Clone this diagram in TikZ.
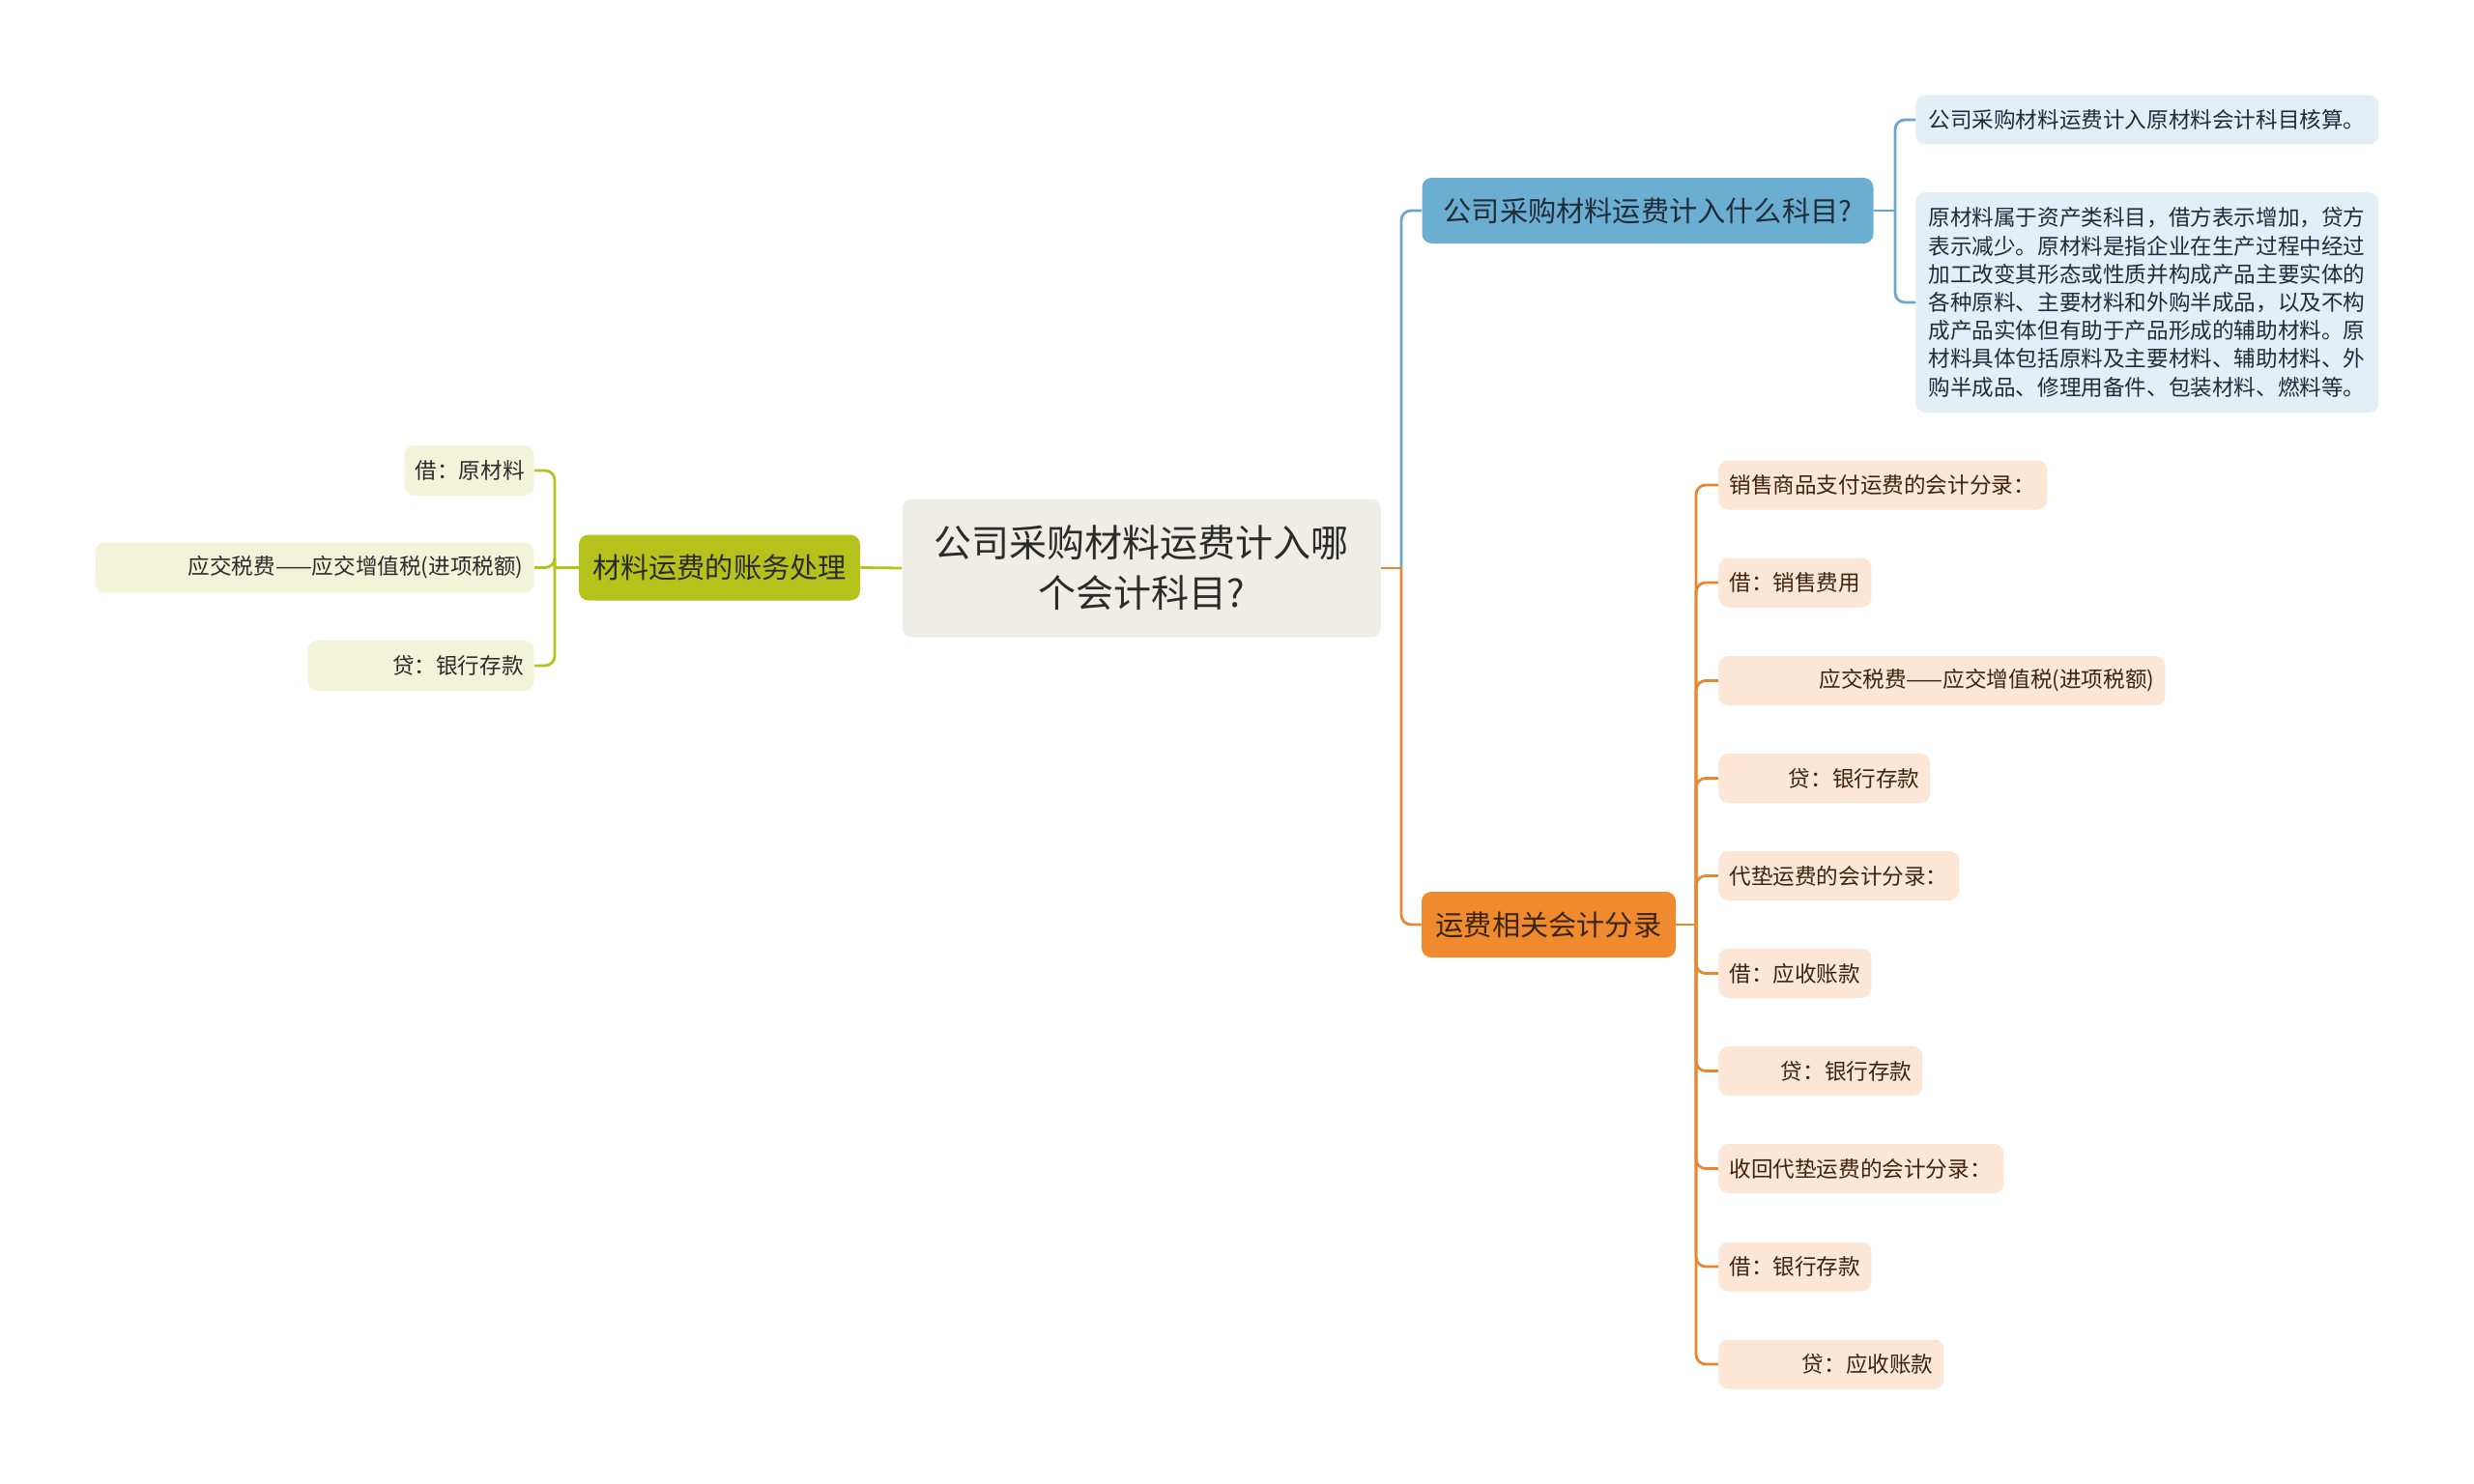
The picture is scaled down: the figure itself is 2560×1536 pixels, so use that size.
\documentclass[tikz,border=0pt]{standalone}
\usepackage{fontspec}
\setmainfont{Noto Sans CJK SC}
\definecolor{rootfill}{HTML}{EEEEE6}
\definecolor{olive}{HTML}{B5C21C}
\definecolor{leafL}{HTML}{F2F3D8}
\definecolor{bluefill}{HTML}{6BAED2}
\definecolor{blueline}{HTML}{6AA6C9}
\definecolor{leafB}{HTML}{E3EFF7}
\definecolor{orangefill}{HTML}{F08A2E}
\definecolor{orangeline}{HTML}{E8872F}
\definecolor{leafO}{HTML}{FCE6D5}
\definecolor{darktext}{HTML}{2B2B2B}
\definecolor{browntext}{HTML}{3B2412}
\definecolor{bluetext}{HTML}{1F2D38}
\begin{document}
\begin{tikzpicture}[x=0.5pt,y=-0.5pt,
  box/.style={rounded corners=5pt, inner sep=0pt, align=center},
  rootbox/.style={box, fill=rootfill, text=darktext, font=\fontsize{19.5}{26}\selectfont,
     minimum width=247.5pt, minimum height=71.5pt},
  branchbox/.style={box, font=\fontsize{14.6}{18}\selectfont, minimum height=34pt},
  leafbox/.style={rounded corners=5pt, inner ysep=0pt, inner xsep=5.5pt,
     font=\fontsize{11.3}{14.6}\selectfont, minimum height=25.5pt},
  lleaf/.style={leafbox, fill=leafL, text=darktext, align=right, anchor=east, minimum height=26pt},
  bleaf/.style={leafbox, fill=leafB, text=bluetext, align=left, anchor=west, inner xsep=6.5pt, text width=226.5pt},
  oleafL/.style={leafbox, fill=leafO, text=browntext, align=left, anchor=west, text width=#1},
  oleafR/.style={leafbox, fill=leafO, text=browntext, align=right, anchor=west, text width=#1},
  oline/.style={draw=olive, line width=1.4pt, rounded corners=5pt},
  bline/.style={draw=blueline, line width=1.4pt, rounded corners=5pt},
  rline/.style={draw=orangeline, line width=1.4pt, rounded corners=5pt}
]
\fill[white] (0,0) rectangle (2560,1536);
\useasboundingbox (0,0) rectangle (2560,1536);

% root
\node[rootbox] (root) at (1181,588) {公司采购材料运费计入哪\\个会计科目?};

% left branch
\node[branchbox, fill=olive, text=darktext, minimum width=145.5pt] (lb) at (744.5,587.5) {材料运费的账务处理};
\node[lleaf, text width=56pt] (l1) at (553,487) {借：原材料};
\node[lleaf, text width=216pt] (l2) at (553,587.5) {应交税费——应交增值税(进项税额)};
\node[lleaf, text width=106pt] (l3) at (553,689) {贷：银行存款};

% blue branch
\node[branchbox, fill=bluefill, text=bluetext, minimum width=233.5pt] (bb) at (1705,218) {公司采购材料运费计入什么科目?};
\node[bleaf] (b1) at (1982,124) {公司采购材料运费计入原材料会计科目核算。};
\node[bleaf, minimum height=114pt] (b2) at (1982,313) {原材料属于资产类科目，借方表示增加，贷方\\表示减少。原材料是指企业在生产过程中经过\\加工改变其形态或性质并构成产品主要实体的\\各种原料、主要材料和外购半成品，以及不构\\成产品实体但有助于产品形成的辅助材料。原\\材料具体包括原料及主要材料、辅助材料、外\\购半成品、修理用备件、包装材料、燃料等。};

% orange branch
\node[branchbox, fill=orangefill, text=browntext, minimum width=131.5pt] (ob) at (1602.5,957) {运费相关会计分录};
\node[oleafL=159pt] (o1) at (1778,502) {销售商品支付运费的会计分录：};
\node[oleafL=68pt] (o2) at (1778,603) {借：销售费用};
\node[oleafR=220pt] (o3) at (1778,704.5) {应交税费——应交增值税(进项税额)};
\node[oleafR=98.5pt] (o4) at (1778,805.5) {贷：银行存款};
\node[oleafL=113.5pt] (o5) at (1778,906.5) {代垫运费的会计分录：};
\node[oleafL=68pt] (o6) at (1778,1007.5) {借：应收账款};
\node[oleafR=94.5pt] (o7) at (1778,1108.5) {贷：银行存款};
\node[oleafL=136.5pt] (o8) at (1778,1209.5) {收回代垫运费的会计分录：};
\node[oleafL=68pt] (o9) at (1778,1311) {借：银行存款};
\node[oleafR=105.5pt] (o10) at (1778,1412) {贷：应收账款};

% junctions
\coordinate (lj) at (574,587.5);
\coordinate (rj) at (1450,588);
\coordinate (bj) at (1961,218);
\coordinate (oj) at (1755,957);

% connectors
\draw[oline] (root.west) -- (lb.east);
\draw[oline] (lb.west) -- (lj);
\foreach \n in {l1,l2,l3} \draw[oline] (lj) |- (\n.east);

\draw[rline] (root.east) -- (rj);
\draw[bline] (rj) |- (bb.west);
\draw[rline] (rj) |- (ob.west);

\draw[bline] (bb.east) -- (bj);
\foreach \n in {b1,b2} \draw[bline] (bj) |- (\n.west);

\draw[rline] (ob.east) -- (oj);
\foreach \n in {o1,o2,o3,o4,o5,o6,o7,o8,o9,o10} \draw[rline] (oj) |- (\n.west);
\end{tikzpicture}
\end{document}
